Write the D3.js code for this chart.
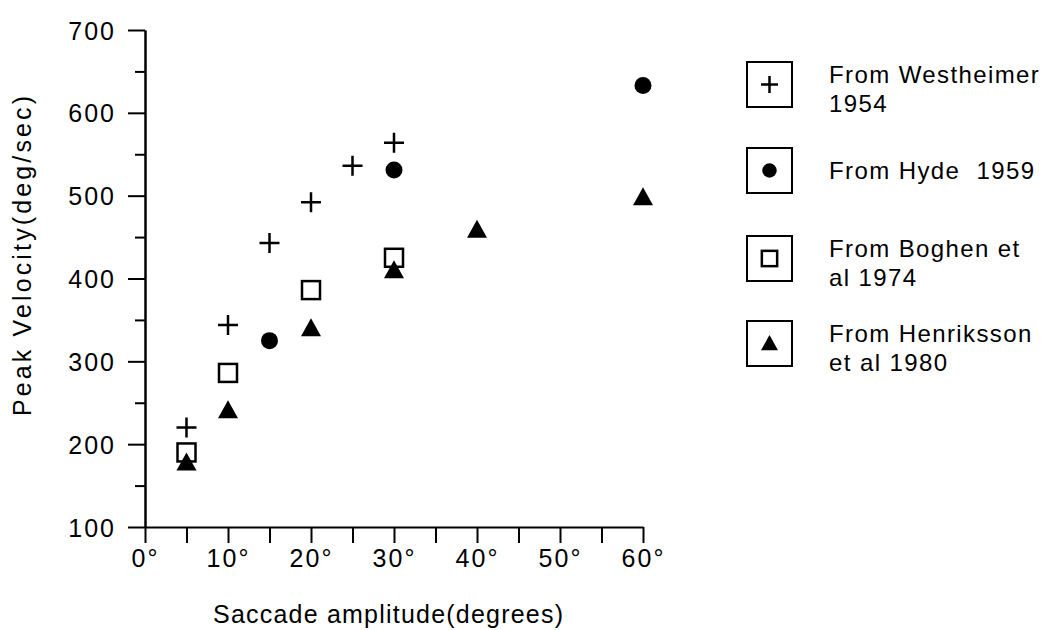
<!DOCTYPE html>
<html>
<head>
<meta charset="utf-8">
<script src="https://cdn.jsdelivr.net/npm/d3@7"></script>
<style>
  html, body { margin: 0; padding: 0; background: #fff; }
  svg text { font-family: "Liberation Sans", Arial, sans-serif; fill: #000; }
</style>
</head>
<body>
<svg id="chart" width="1061" height="630"></svg>
<script>
// Data (peak velocity in deg/sec vs saccade amplitude in degrees)
const westheimerX = [5, 10, 15, 20, 25, 30];
const westheimerY = [220, 344, 443, 492, 536, 564];
const hydeX = [15, 30, 60];
const hydeY = [325, 531, 633];
const boghenX = [5, 10, 20, 30];
const boghenY = [190, 286, 386, 425];
const henrikssonX = [5, 10, 20, 30, 40, 60];
const henrikssonY = [178, 241, 340, 410, 459, 498];

const xTickValues = [0, 5, 10, 15, 20, 25, 30, 35, 40, 45, 50, 55, 60];
const yMajorTicks = [100, 200, 300, 400, 500, 600, 700];
const yMinorTicks = [150, 250, 350, 450, 550, 650];
const legendLabels = [
  ['From Westheimer', '1954'],
  ['From Hyde  1959'],
  ['From Boghen et', 'al 1974'],
  ['From Henriksson', 'et al 1980']
];
const markerTypes = ['plus', 'circle', 'square', 'triangle'];

const svg = d3.select('#chart');

const x = d3.scaleLinear().domain([0, 60]).range([145, 643]);
const y = d3.scaleLinear().domain([100, 700]).range([527, 30]);

// Axes
const yMajor = svg.append('g')
  .attr('transform', `translate(${x(0)},0)`)
  .call(d3.axisLeft(y).tickValues(yMajorTicks).tickSize(17).tickSizeOuter(0).tickPadding(12));
const yMinor = svg.append('g')
  .attr('transform', `translate(${x(0)},0)`)
  .call(d3.axisLeft(y).tickValues(yMinorTicks).tickSize(10).tickSizeOuter(0).tickFormat(''));
const xAxis = svg.append('g')
  .attr('transform', `translate(0,${y(100)})`)
  .call(d3.axisBottom(x).tickValues(xTickValues).tickSize(16).tickSizeOuter(0).tickPadding(6)
    .tickFormat(d => d % 10 === 0 ? d + '°' : ''));

[yMajor, yMinor, xAxis].forEach(g => {
  g.selectAll('path, line').attr('stroke', '#000').attr('stroke-width', 2);
  g.selectAll('text')
    .style('font-size', '25px')
    .style('letter-spacing', '2px')
    .style('font-family', '"Liberation Sans", Arial, sans-serif')
    .attr('fill', '#000');
});
yMajor.selectAll('text').attr('dy', '0.36em');

// Axis titles
svg.append('text')
  .attr('x', 388)
  .attr('y', 623)
  .attr('text-anchor', 'middle')
  .attr('textLength', 350)
  .attr('lengthAdjust', 'spacing')
  .style('font-size', '25px')
  .text('Saccade amplitude(degrees)');

svg.append('text')
  .attr('transform', 'translate(31,256) rotate(-90)')
  .attr('text-anchor', 'middle')
  .attr('textLength', 320)
  .attr('lengthAdjust', 'spacing')
  .style('font-size', '25px')
  .text('Peak Velocity(deg/sec)');

// Marker drawing
function drawMarker(g, type, cx, cy, s) {
  if (type === 'plus') {
    g.append('path')
      .attr('d', `M${cx - 10 * s},${cy}H${cx + 10 * s}M${cx},${cy - 10 * s}V${cy + 10 * s}`)
      .attr('stroke', '#000').attr('stroke-width', 2.5).attr('fill', 'none');
  } else if (type === 'circle') {
    g.append('circle').attr('cx', cx).attr('cy', cy).attr('r', 8.5 * s).attr('fill', '#000');
  } else if (type === 'square') {
    g.append('rect')
      .attr('x', cx - 9 * s).attr('y', cy - 9 * s)
      .attr('width', 18 * s).attr('height', 18 * s)
      .attr('fill', '#fff').attr('stroke', '#000').attr('stroke-width', 2.5);
  } else {
    g.append('path')
      .attr('d', `M${cx},${cy - 10 * s}L${cx + 10 * s},${cy + 8 * s}L${cx - 10 * s},${cy + 8 * s}Z`)
      .attr('fill', '#000');
  }
}

const series = [
  { type: 'plus', xs: westheimerX, ys: westheimerY },
  { type: 'square', xs: boghenX, ys: boghenY },
  { type: 'triangle', xs: henrikssonX, ys: henrikssonY },
  { type: 'circle', xs: hydeX, ys: hydeY }
];

const marks = svg.append('g');
series.forEach(sr => {
  sr.xs.forEach((v, i) => drawMarker(marks, sr.type, x(v), y(sr.ys[i]), 1));
});

// Legend
const legendTop = [62, 148, 236, 321];
const legend = svg.append('g');
legendLabels.forEach((lines, i) => {
  const top = legendTop[i];
  legend.append('rect')
    .attr('x', 747).attr('y', top)
    .attr('width', 45).attr('height', 45)
    .attr('fill', 'none').attr('stroke', '#000').attr('stroke-width', 2);
  drawMarker(legend, markerTypes[i], 769.5, top + 22.5, 0.85);
  const baseline = lines.length === 1 ? top + 31 : top + 21;
  lines.forEach((t, j) => {
    legend.append('text')
      .attr('x', 829)
      .attr('y', baseline + j * 29)
      .style('font-size', '24px')
      .style('letter-spacing', '1.4px')
      .style('white-space', 'pre')
      .text(t);
  });
});
</script>
</body>
</html>
